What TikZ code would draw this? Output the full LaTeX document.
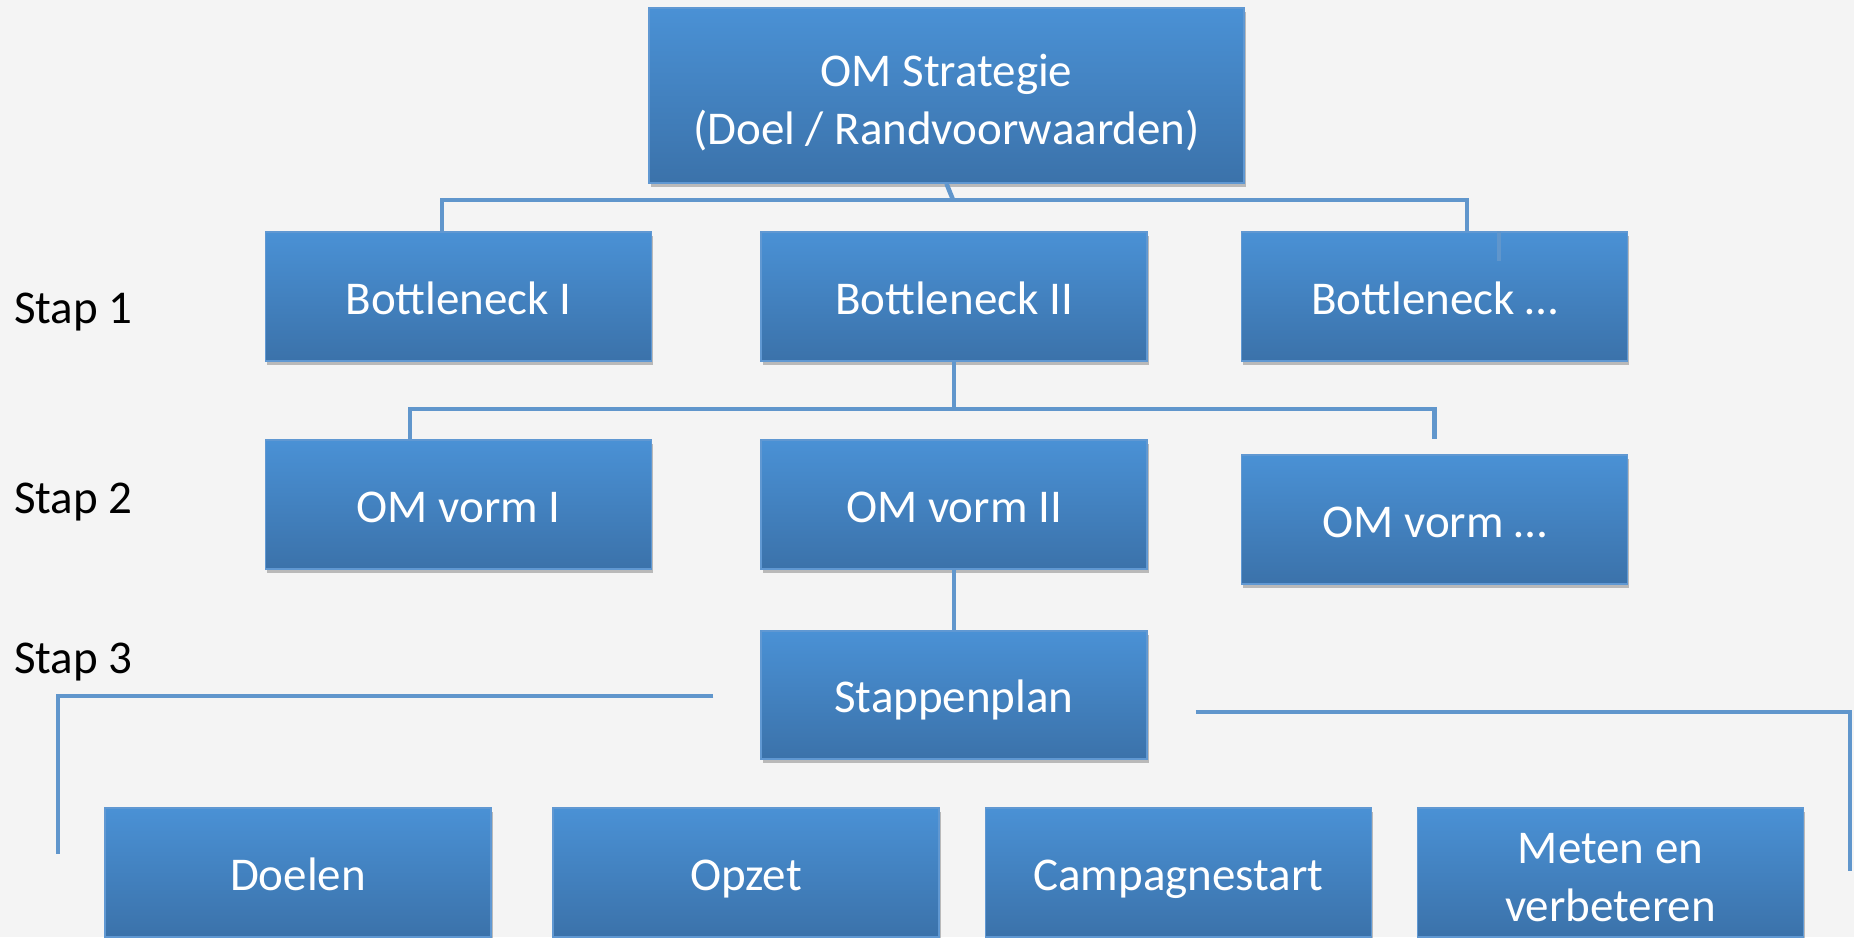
\documentclass[tikz,border=0pt]{standalone}
\usepackage{fontspec}
\setmainfont{Carlito}
\usetikzlibrary{shadows,calc}
\definecolor{bgc}{RGB}{244,244,244}
\definecolor{boxtop}{RGB}{74,145,213}
\definecolor{boxbot}{RGB}{59,114,170}
\definecolor{boxedge}{RGB}{96,152,210}
\definecolor{connc}{RGB}{96,150,204}
\newcommand\boxtopstrut{\rule{0pt}{47pt}}
\newcommand\boxtallstrut{\rule{0pt}{110pt}}
\newcommand\boxbotstrut{\rule[-12pt]{0pt}{12pt}}
\tikzset{
  box/.style={rectangle, draw=boxedge, line width=1.5pt, top color=boxtop, bottom color=boxbot,
    minimum width=386pt, minimum height=129pt, inner sep=0pt, align=center, text=white,
    font=\fontsize{47}{58}\selectfont,
    execute at begin node=\boxtopstrut, execute at end node=\boxbotstrut,
    drop shadow={shadow xshift=1.5pt, shadow yshift=-4pt, opacity=0.35, fill=black!70}},
  twoline/.style={execute at begin node=\boxtallstrut},
  conn/.style={draw=connc, line width=4.5pt, line cap=butt},
  steplabel/.style={anchor=base west, inner sep=0pt, text=black, font=\fontsize{47}{58}\selectfont}
}
\begin{document}
\begin{tikzpicture}[x=1pt,y=-1pt]
\useasboundingbox[fill=bgc] (0,0) rectangle (1854,937);

% nodes
\node[box, twoline, minimum width=595pt, minimum height=175pt] (top) at (946.5,95.5) {OM Strategie\\(Doel / Randvoorwaarden)};
\node[box] (bn1) at (458.5,296.5) {Bottleneck I};
\node[box] (bn2) at (954,296.5) {Bottleneck II};
\node[box] (bn3) at (1434.5,296.5) {Bottleneck …};
\node[box] (om1) at (458.5,504.5) {OM vorm I};
\node[box] (om2) at (954,504.5) {OM vorm II};
\node[box] (om3) at (1434.5,519.5) {OM vorm …};
\node[box, minimum height=128pt] (stap) at (954,695) {Stappenplan};
\node[box] (doel) at (298,872.5) {Doelen};
\node[box] (opzet) at (746,872.5) {Opzet};
\node[box] (camp) at (1178.5,872.5) {Campagnestart};
\node[box, twoline] (meten) at (1610.5,872.5) {Meten en\\verbeteren};

\node[steplabel] (s1) at (14,323) {Stap 1};
\node[steplabel] (s2) at (14,513) {Stap 2};
\node[steplabel] (s3) at (14,673) {Stap 3};

% connectors level 1
\coordinate (j1) at ($(top.south)+(6.5,16)$);
\draw[conn] (top.south) -- (j1);
\draw[conn] ($(bn1.north)+(-16.5,0)$) |- (j1) -| ($(bn3.north)+(32.5,0)$);
\draw[conn] ($(bn3.north)+(64.5,0)$) -- ++(0,30);

% connectors level 2
\coordinate (j2) at ($(bn2.south)+(0,47)$);
\draw[conn] (bn2.south) -- (j2);
\draw[conn] ($(om1.north)+(-48.5,0)$) |- (j2) -| ($(om3.north)+(0,-15)$);

% level 3
\draw[conn] (om2.south) -- (stap.north);

% loose lines around Stappenplan
\coordinate (l1) at ($(stap.west)+(-47,1)$);
\coordinate (l2) at (58,696);
\coordinate (l3) at (58,854);
\draw[conn, line join=miter] (l1) -- (l2) -- (l3);
\coordinate (r1) at ($(stap.east)+(48,17)$);
\coordinate (r2) at (1850,712);
\coordinate (r3) at (1850,871);
\draw[conn, line join=miter] (r1) -- (r2) -- (r3);
\end{tikzpicture}
\end{document}
